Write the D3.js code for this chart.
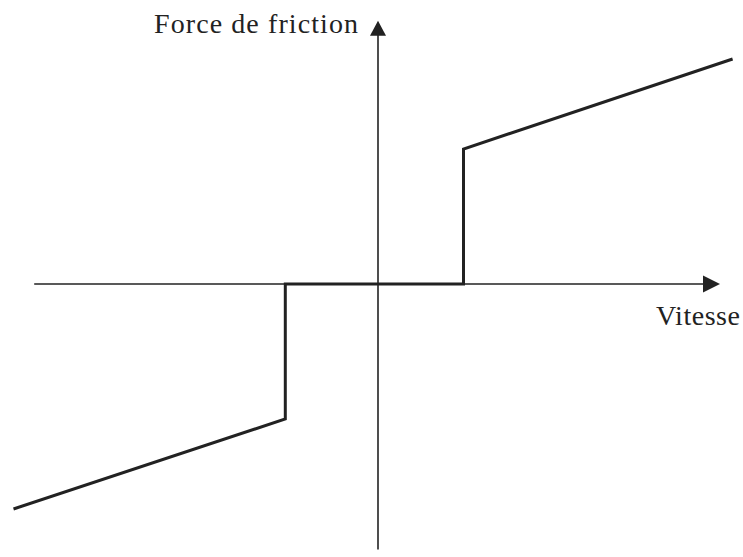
<!DOCTYPE html>
<html>
<head>
<meta charset="utf-8">
<script src="https://d3js.org/d3.v7.min.js"></script>
<style>
  body { margin: 0; background: #fff; }
  svg text { font-family: "Liberation Serif", "Times New Roman", serif; fill: #222; }
</style>
</head>
<body>
<div class="chart"></div>
<script>
  // friction curve: velocity vs friction force (arbitrary units)
  const vitesse = [-4.05, -1.03, -1.03, 0.95, 0.95, 3.94];
  const force = [-5, -3, 0, 0, 3, 5];
  const axisX = [-3.82, 3.8];
  const axisY = [-5.9, 5.85];
  const labels = { x: 'Vitesse', y: 'Force de friction' };

  const width = 743, height = 557;

  const svg = d3.select('.chart').append('svg')
    .attr('width', width)
    .attr('height', height);

  // origin of the axes sits at (378, 284)
  const x = d3.scaleLinear().domain([-4, 4]).range([18, 738]);
  const y = d3.scaleLinear().domain([-6, 6]).range([554, 14]);

  const ink = '#222';

  // horizontal axis + arrow
  svg.append('line')
    .attr('x1', x(axisX[0])).attr('x2', x(axisX[1]) - 14)
    .attr('y1', y(0)).attr('y2', y(0))
    .attr('stroke', ink).attr('stroke-width', 1.6);
  svg.append('path')
    .attr('d', d3.line()([[x(axisX[1]), y(0)], [x(axisX[1]) - 17, y(0) - 8.5], [x(axisX[1]) - 17, y(0) + 8.5]]) + 'Z')
    .attr('fill', ink);

  // vertical axis + arrow
  svg.append('line')
    .attr('x1', x(0)).attr('x2', x(0))
    .attr('y1', y(axisY[0])).attr('y2', y(axisY[1]) + 12)
    .attr('stroke', ink).attr('stroke-width', 1.6);
  svg.append('path')
    .attr('d', d3.line()([[x(0), y(axisY[1])], [x(0) - 8, y(axisY[1]) + 15], [x(0) + 8, y(axisY[1]) + 15]]) + 'Z')
    .attr('fill', ink);

  // friction curve
  const line = d3.line()
    .x((d, i) => x(vitesse[i]))
    .y((d, i) => y(force[i]));

  svg.append('path')
    .datum(vitesse)
    .attr('d', line)
    .attr('fill', 'none')
    .attr('stroke', ink)
    .attr('stroke-width', 3)
    .attr('stroke-linejoin', 'miter');

  // axis labels
  svg.append('text')
    .attr('x', 656).attr('y', 325)
    .attr('font-size', 28)
    .attr('textLength', 84)
    .text(labels.x);

  svg.append('text')
    .attr('x', 154).attr('y', 33)
    .attr('font-size', 28)
    .attr('textLength', 204)
    .text(labels.y);
</script>
</body>
</html>
